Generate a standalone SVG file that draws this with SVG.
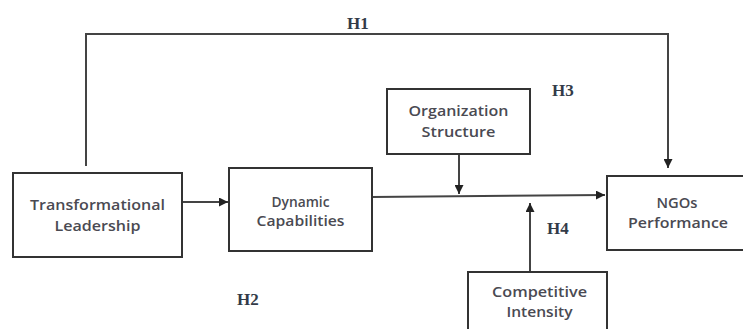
<svg xmlns="http://www.w3.org/2000/svg" width="743" height="329" viewBox="0 0 743 329">
<defs>
<marker id="ah" viewBox="0 0 10 10" refX="10" refY="5" markerWidth="9" markerHeight="9" markerUnits="userSpaceOnUse" orient="auto">
<path d="M0,0 L10,5 L0,10 z" fill="#222"/>
</marker>
<style>
.box{fill:#fff;stroke:#333;stroke-width:2}
.lbl{font-family:"Open Sans","Liberation Sans",sans-serif;font-size:14px;font-weight:600;fill:#4a4a52;text-anchor:middle}
.h{font-family:"Liberation Serif",serif;font-size:17px;font-weight:bold;fill:#333b48}
.ln{fill:none;stroke:#444;stroke-width:2}
</style>
</defs>
<rect width="743" height="329" fill="#fff"/>
<g id="connectors">
<path class="ln" d="M86,166 V34 H668 V168" marker-end="url(#ah)"/>
<path class="ln" d="M182,202 H228" marker-end="url(#ah)"/>
<path class="ln" d="M372,197 L605,195" marker-end="url(#ah)"/>
<path class="ln" d="M459,154 V194" marker-end="url(#ah)"/>
<path class="ln" d="M530,272 V203" marker-end="url(#ah)"/>
</g>
<g id="transformational">
<rect class="box" x="13" y="173" width="169" height="84"/>
<text class="lbl" x="97.5" y="210" textLength="135" lengthAdjust="spacingAndGlyphs">Transformational</text>
<text class="lbl" x="97.5" y="231" textLength="86" lengthAdjust="spacingAndGlyphs">Leadership</text>
</g>
<g id="dynamic">
<rect class="box" x="229" y="168" width="143" height="83"/>
<text class="lbl" x="300.5" y="207" textLength="58" lengthAdjust="spacingAndGlyphs">Dynamic</text>
<text class="lbl" x="300.5" y="226" textLength="88" lengthAdjust="spacingAndGlyphs">Capabilities</text>
</g>
<g id="organization">
<rect class="box" x="387" y="89" width="143" height="65"/>
<text class="lbl" x="458.5" y="116" textLength="100" lengthAdjust="spacingAndGlyphs">Organization</text>
<text class="lbl" x="458.5" y="137" textLength="74" lengthAdjust="spacingAndGlyphs">Structure</text>
</g>
<g id="ngos">
<rect class="box" x="607" y="176" width="142" height="74"/>
<text class="lbl" x="677" y="208" textLength="41" lengthAdjust="spacingAndGlyphs">NGOs</text>
<text class="lbl" x="678" y="228" textLength="100" lengthAdjust="spacingAndGlyphs">Performance</text>
</g>
<g id="competitive">
<rect class="box" x="468" y="272" width="139" height="70"/>
<text class="lbl" x="539.5" y="297" textLength="95" lengthAdjust="spacingAndGlyphs">Competitive</text>
<text class="lbl" x="539.5" y="317" textLength="66" lengthAdjust="spacingAndGlyphs">Intensity</text>
</g>
<g id="labels">
<text class="h" x="347" y="29">H1</text>
<text class="h" x="237" y="305">H2</text>
<text class="h" x="552" y="96">H3</text>
<text class="h" x="547" y="234">H4</text>
</g>
</svg>
